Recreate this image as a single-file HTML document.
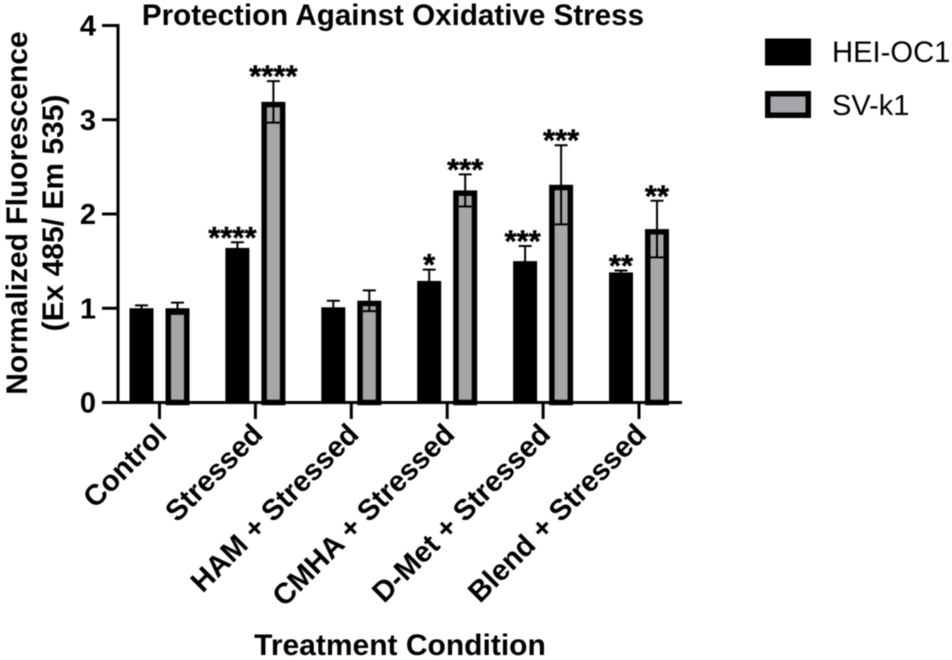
<!DOCTYPE html>
<html lang="en">
<head>
<meta charset="utf-8">
<title>Protection Against Oxidative Stress</title>
<style>
html,body{margin:0;padding:0;background:#fff;width:952px;height:660px;overflow:hidden}
svg{display:block;filter:blur(.45px)}
text{font-family:"Liberation Sans",Arial,sans-serif;fill:#000}
.b{font-weight:700}
</style>
</head>
<body>
<svg id="chart" xmlns="http://www.w3.org/2000/svg" width="952" height="660" viewBox="0 0 952 660">
<rect x="0" y="0" width="952" height="660" fill="#fff"/>
<text class="b" x="393" y="25" font-size="29.6" text-anchor="middle">Protection Against Oxidative Stress</text>
<text class="b" transform="translate(27 213) rotate(-90)" font-size="30" text-anchor="middle">Normalized Fluorescence</text>
<text class="b" transform="translate(63 213) rotate(-90)" font-size="30" text-anchor="middle">(Ex 485/ Em 535)</text>
<text class="b" x="400" y="655" font-size="30" text-anchor="middle">Treatment Condition</text>
<g>
<rect x="765" y="38.5" width="46" height="27" fill="#000"/>
<text x="832" y="62" font-size="29.2">HEI-OC1</text>
<rect x="767.75" y="93.75" width="40.5" height="21.5" fill="#a6a6aa" stroke="#000" stroke-width="5.5"/>
<text x="832" y="115" font-size="29">SV-k1</text>
</g>
<g id="plot"></g>
</svg>
<script>
const categories = ["Control", "Stressed", "HAM + Stressed", "CMHA + Stressed", "D-Met + Stressed", "Blend + Stressed"];
const heiValues = [1.00, 1.64, 1.01, 1.29, 1.50, 1.38];
const heiErrors = [0.03, 0.06, 0.07, 0.12, 0.16, 0.02];
const heiStars = ["", "****", "", "*", "***", "**"];
const svValues = [1.00, 3.19, 1.08, 2.25, 2.31, 1.84];
const svErrors = [0.06, 0.22, 0.11, 0.17, 0.42, 0.30];
const svStars = ["", "****", "", "***", "***", "**"];
const yTicks = [0, 1, 2, 3, 4];

const NS = "http://www.w3.org/2000/svg";
const plot = document.getElementById("plot");
const yScale = v => 402.5 - v * 94.25;
const xScale = i => 159.5 + i * 95.9;
const GROUP_OFFSET = 18;
const BAR_W = 24;
const BORDER = 5.5;

function make(tag, props, text) {
  const el = document.createElementNS(NS, tag);
  for (const k in props) el.setAttribute(k, props[k]);
  if (text !== undefined) el.textContent = text;
  plot.appendChild(el);
  return el;
}

function drawBar(cx, value, filled) {
  const top = yScale(value), base = yScale(0);
  if (filled) {
    return make("rect", {x: cx - BAR_W / 2, y: top, width: BAR_W, height: base - top, fill: "#000"});
  }
  return make("rect", {
    x: cx - BAR_W / 2 + BORDER / 2, y: top + BORDER / 2,
    width: BAR_W - BORDER, height: base - top - BORDER / 2,
    fill: "#a6a6aa", stroke: "#000", "stroke-width": BORDER
  });
}

function drawError(cx, value, err) {
  const hi = yScale(value + err), lo = yScale(value - err);
  const d = `M${cx} ${hi}V${lo}M${cx - 6.5} ${hi}H${cx + 6.5}M${cx - 6.5} ${lo}H${cx + 6.5}`;
  return make("path", {d: d, fill: "none", stroke: "#000", "stroke-width": 2});
}

function drawStars(cx, value, err, label) {
  return make("text", {x: cx, y: yScale(value + err) + 5.5, "font-size": 31, "font-weight": 700, "text-anchor": "middle", stroke: "#000", "stroke-width": 0.4}, label);
}

categories.forEach((name, i) => {
  const xHei = xScale(i) - GROUP_OFFSET;
  const xSv = xScale(i) + GROUP_OFFSET;

  const barA = drawBar(xHei, heiValues[i], true);
  
  
  const errA = drawError(xHei, heiValues[i], heiErrors[i]);
  
  

  const barB = drawBar(xSv, svValues[i], false);
  
  
  const errB = drawError(xSv, svValues[i], svErrors[i]);
  
  

  if (heiStars[i]) {
    const nudge = heiStars[i].length > 2 ? (heiStars[i].length - 2) * -2.5 : 0;
    const s = drawStars(xHei + nudge, heiValues[i], heiErrors[i], heiStars[i]);
    
    
  }
  if (svStars[i]) {
    const s = drawStars(xSv, svValues[i], svErrors[i], svStars[i]);
    
    
  }

  const tick = make("line", {x1: xScale(i), x2: xScale(i), y1: yScale(0), y2: yScale(0) + 16.5, stroke: "#000", "stroke-width": 3});
  
  

  const lx = xScale(i) + 9, ly = 436;
  const label = make("text", {transform: `translate(${lx} ${ly}) rotate(-45)`, "font-size": 29.2, "font-weight": 700, "text-anchor": "end"}, name);
  
  
});

yTicks.forEach(v => {
  const tick = make("line", {x1: 102, x2: 118, y1: yScale(v), y2: yScale(v), stroke: "#000", "stroke-width": 3});
  
  
  const label = make("text", {x: 96, y: yScale(v) + 10, "font-size": 29, "font-weight": 700, "text-anchor": "end"}, String(v));
  
  
});

const yAxis = make("line", {x1: 118, x2: 118, y1: yScale(4) - 1.5, y2: yScale(0) + 1.5, stroke: "#000", "stroke-width": 3});


const xAxis = make("line", {x1: 102, x2: 682, y1: yScale(0), y2: yScale(0), stroke: "#000", "stroke-width": 3});


</script>
</body>
</html>
